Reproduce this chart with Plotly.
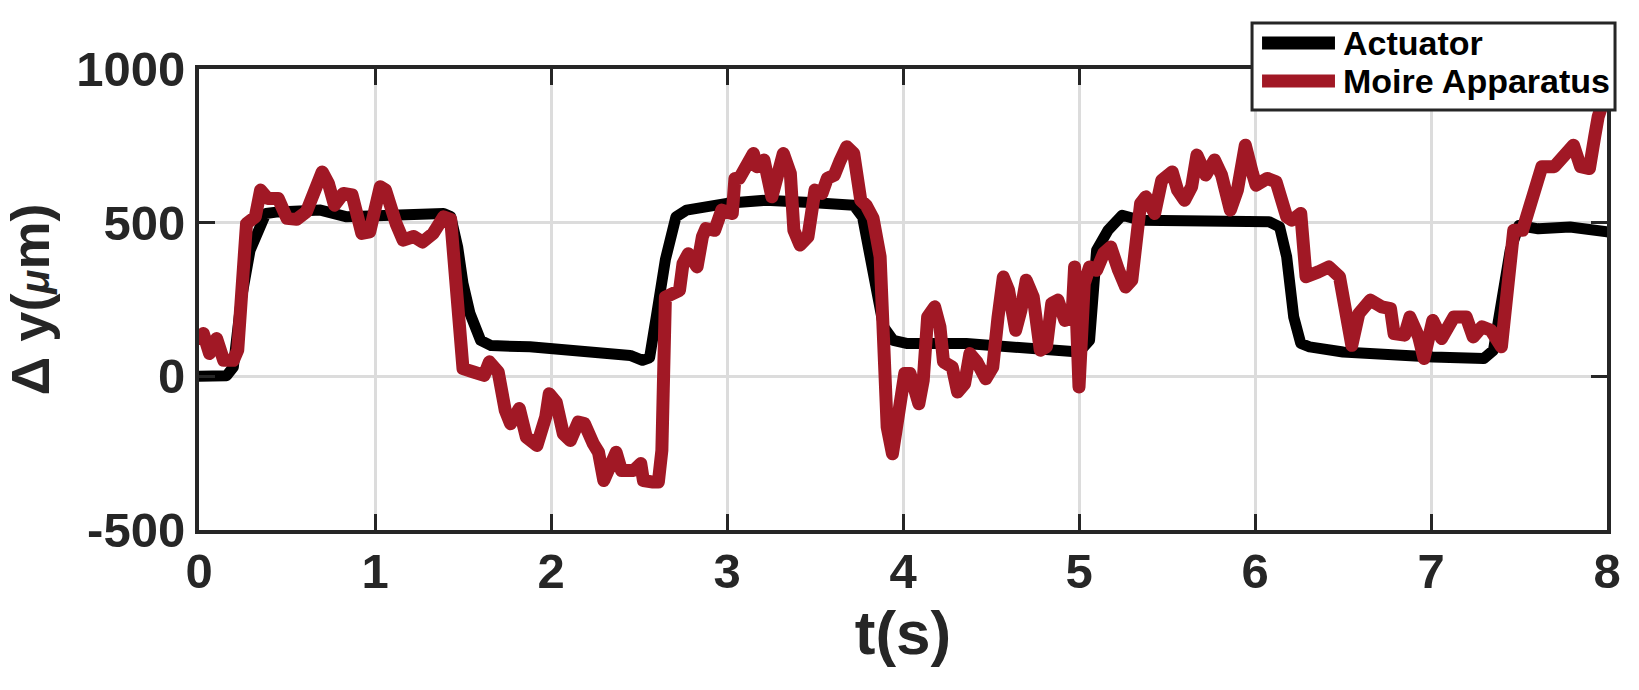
import plotly.graph_objects as go

# actuator displacement (um) vs time (s)
act_t = [0.00, 0.10, 0.157, 0.195, 0.24, 0.29, 0.35, 0.38, 0.45, 0.60, 0.69, 0.84, 1.10, 1.39,
         1.43, 1.47, 1.50, 1.54, 1.60, 1.66, 1.88, 2.16, 2.45, 2.52, 2.56, 2.60, 2.65, 2.71,
         2.77, 3.00, 3.22, 3.50, 3.72, 3.77, 3.79, 3.85, 3.89, 3.945, 4.02, 4.36, 4.78, 5.00,
         5.06, 5.10, 5.165, 5.245, 5.35, 5.70, 5.955, 6.08, 6.14, 6.18, 6.22, 6.26, 6.31, 6.50,
         7.01, 7.30, 7.355, 7.39, 7.45, 7.50, 7.61, 7.79, 8.00]
act_y = [0, 0, 2, 30, 250, 410, 497, 530, 535, 538, 541, 519, 525, 530,
         520, 420, 302, 204, 117, 100, 96, 79, 68, 52, 60, 200, 380, 519,
         541, 563, 573, 565, 557, 519, 454, 248, 161, 117, 107, 107, 85, 79,
         117, 410, 475, 524, 508, 505, 497, 503, 486, 389, 193, 107, 96, 79,
         63, 58, 85, 193, 410, 491, 480, 486, 470]

# moire apparatus measurement (um) vs time (s)
moire_t = [0.00, 0.025, 0.06, 0.10, 0.14, 0.195, 0.22, 0.25, 0.27, 0.32, 0.35, 0.39, 0.45, 0.50,
           0.555, 0.61, 0.65, 0.70, 0.735, 0.77, 0.82, 0.87, 0.925, 0.97, 1.03, 1.06, 1.12, 1.16,
           1.22, 1.27, 1.33, 1.39, 1.43, 1.46, 1.48, 1.50, 1.56, 1.62, 1.65, 1.70, 1.74, 1.77,
           1.82, 1.86, 1.92, 1.97, 1.99, 2.03, 2.07, 2.11, 2.155, 2.19, 2.24, 2.27, 2.30, 2.345,
           2.37, 2.40, 2.47, 2.51, 2.525, 2.58, 2.61, 2.63, 2.632, 2.65, 2.73, 2.75, 2.78, 2.83,
           2.86, 2.88, 2.93, 2.95, 2.97, 3.03, 3.045, 3.07, 3.11, 3.15, 3.17, 3.21, 3.255, 3.28,
           3.32, 3.36, 3.38, 3.415, 3.46, 3.50, 3.54, 3.57, 3.61, 3.64, 3.68, 3.72, 3.76, 3.79,
           3.83, 3.87, 3.89, 3.91, 3.94, 3.98, 4.01, 4.04, 4.09, 4.115, 4.14, 4.18, 4.21, 4.23,
           4.28, 4.31, 4.35, 4.38, 4.42, 4.47, 4.51, 4.54, 4.57, 4.60, 4.64, 4.67, 4.70, 4.74,
           4.78, 4.815, 4.845, 4.88, 4.92, 4.96, 4.975, 5.00, 5.03, 5.06, 5.10, 5.14, 5.18, 5.225,
           5.265, 5.30, 5.35, 5.38, 5.43, 5.47, 5.53, 5.56, 5.60, 5.64, 5.67, 5.72, 5.77, 5.81,
           5.86, 5.90, 5.945, 5.986, 6.006, 6.07, 6.12, 6.18, 6.21, 6.26, 6.28, 6.29, 6.36, 6.42,
           6.48, 6.51, 6.55, 6.59, 6.655, 6.72, 6.77, 6.79, 6.85, 6.88, 6.93, 6.96, 7.01, 7.06,
           7.13, 7.20, 7.24, 7.29, 7.34, 7.40, 7.43, 7.47, 7.52, 7.56, 7.58, 7.61, 7.63, 7.70,
           7.73, 7.77, 7.81, 7.85, 7.90, 7.93, 7.95, 8.00]
moire_y = [123, 139, 74, 123, 52, 52, 85, 356, 497, 519, 606, 579, 579, 514,
           511, 535, 606, 665, 628, 557, 595, 590, 465, 470, 617, 606, 497, 443,
           455, 437, 465, 519, 511, 302, 85, 25, 14, 3, 47, 14, -111, -154,
           -105, -198, -225, -132, -57, -85, -187, -209, -149, -154, -219, -247, -339, -284,
           -247, -306, -306, -284, -339, -344, -344, -241, 172, 258, 280, 367, 399, 356,
           454, 481, 475, 530, 541, 530, 644, 644, 698, 725, 682, 704, 584, 649,
           725, 660, 475, 427, 454, 606, 595, 644, 655, 698, 747, 725, 573, 557,
           514, 389, -24, -165, -252, -132, 9, 9, -89, -13, 193, 226, 161, 47,
           30, -51, -24, 74, 47, -8, 30, 193, 323, 280, 150, 215, 313, 258,
           85, 96, 237, 248, 182, 193, 356, -35, 302, 356, 345, 400, 421, 345,
           291, 313, 562, 584, 530, 638, 665, 606, 573, 617, 720, 655, 704, 655,
           541, 606, 752, 660, 622, 644, 633, 519, 508, 530, 367, 324, 340, 356,
           324, 204, 101, 204, 248, 226, 220, 139, 134, 193, 128, 58, 182, 123,
           193, 193, 128, 161, 150, 96, 302, 475, 475, 541, 606, 633, 682, 682,
           704, 736, 752, 682, 676, 780, 845, 930]

series_names = ["Actuator", "Moire Apparatus"]
series_colors = ["#000000", "#A11825"]

x_ticks = [0, 1, 2, 3, 4, 5, 6, 7, 8]
y_ticks = [-500, 0, 500, 1000]
y_tick_text = ["-500", "0", "500", "1000"]

FONT = "Liberation Sans, Arial, sans-serif"
INK = "#262626"

fig = go.Figure()
fig.add_trace(go.Scatter(x=act_t, y=act_y, mode="lines", name=series_names[0],
                         line=dict(color=series_colors[0], width=11), showlegend=False))
fig.add_trace(go.Scatter(x=moire_t, y=moire_y, mode="lines", name=series_names[1],
                         line=dict(color=series_colors[1], width=13), showlegend=False))

axis_common = dict(
    showline=True, linecolor=INK, linewidth=4, mirror="ticks",
    ticks="inside", ticklen=16, tickwidth=3, tickcolor=INK,
    showgrid=True, gridcolor="#dcdcdc", gridwidth=2.5,
    zeroline=False, automargin=False,
    tickfont=dict(family=FONT, size=49, color=INK, weight="bold"),
)

fig.update_xaxes(range=[0, 8], tickvals=x_ticks, ticklabelstandoff=-5,
                 title=dict(text="t(s)", standoff=12,
                            font=dict(family=FONT, size=62, color=INK, weight="bold")),
                 **axis_common)
fig.update_yaxes(range=[-500, 1000], tickvals=y_ticks, ticktext=y_tick_text,
                 title=dict(text='Δ y(<span style="font-size:40px"><i>μ</i></span>m)', standoff=16,
                            font=dict(family=FONT, size=54, color=INK, weight="bold")),
                 **axis_common)

# legend box drawn in paper coordinates so the sample lines can be as thick as the data lines
fig.add_shape(type="rect", xref="paper", yref="paper",
              x0=0.7479, x1=1.0057, y0=0.911, y1=1.0998,
              fillcolor="white", line=dict(color=INK, width=3), layer="above")
legend_rows = [1.0564, 0.974]
for name, color, yr in zip(series_names, series_colors, legend_rows):
    fig.add_shape(type="line", xref="paper", yref="paper",
                  x0=0.7550, x1=0.8068, y0=yr, y1=yr,
                  line=dict(color=color, width=13), layer="above")
    fig.add_annotation(text=name, xref="paper", yref="paper", x=0.8115, y=yr,
                       xanchor="left", yanchor="middle", showarrow=False, borderpad=0,
                       font=dict(family=FONT, size=34, color="#000000", weight="bold"))

fig.update_layout(
    width=1639, height=690,
    margin=dict(l=199, r=32, t=69, b=160, autoexpand=False),
    paper_bgcolor="white",
    plot_bgcolor="white",
)

page_fix = (
    "document.body.style.margin='0';"
    "document.querySelectorAll('.scatterlayer .js-line').forEach(function(p){"
    "p.style.strokeLinejoin='round';p.style.strokeLinecap='round';});"
)
fig.write_html("out.html", post_script=page_fix, config={"displayModeBar": False})
